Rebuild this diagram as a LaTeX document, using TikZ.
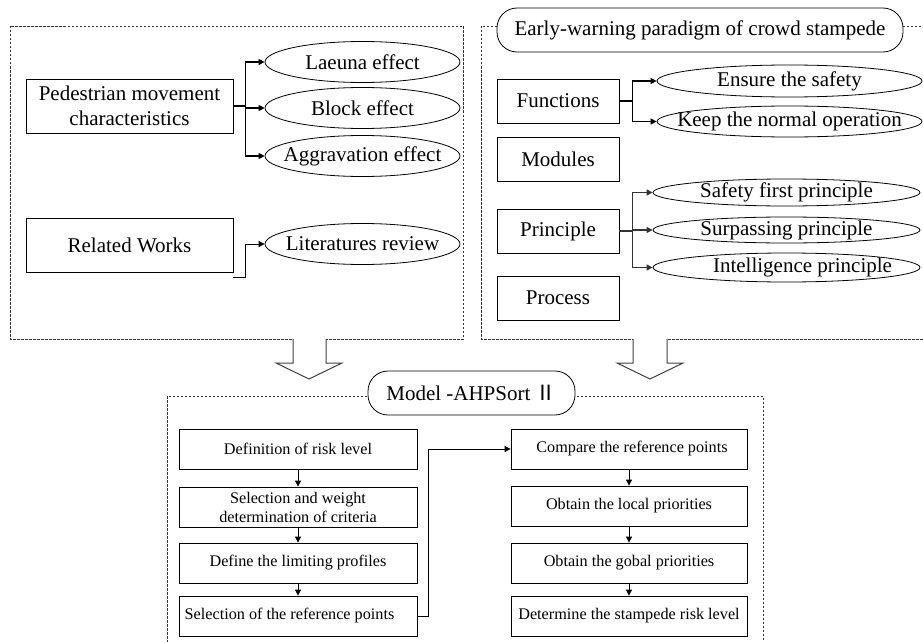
\documentclass[tikz,border=0pt]{standalone}
\usepackage{fontspec}
\setmainfont{Liberation Serif}
\newfontfamily\cjk{Noto Sans CJK SC}
\usetikzlibrary{shapes.geometric,arrows.meta,calc}
\begin{document}
\begin{tikzpicture}[x=1pt,y=-1pt,
 big/.style={font=\fontsize{21}{25}\selectfont},
 small/.style={font=\fontsize{16.2}{19}\selectfont},
 box/.style={draw,line width=0.8pt,rectangle,inner sep=0pt,align=center},
 oval/.style={draw,line width=0.8pt,ellipse,inner sep=0pt},
 frame/.style={draw=black!80,line width=0.7pt,dash pattern=on 2.5pt off 1.5pt},
 title/.style={draw,line width=0.8pt,fill=white,rounded corners=20pt,inner sep=0pt,big},
 tip/.style={-{Triangle[length=6pt,width=6pt]}},
 hollow/.style={draw=black!75,line width=1pt,fill=white}
]
\useasboundingbox (0,0) rectangle (923,642);

% frames
\draw[frame] (10,26) rectangle (463,339);
\draw[frame] (481,26) rectangle (940,339);
\draw[frame] (167,396) rectangle (763,680);

% hollow arrows
\draw[hollow] (293,339) -- (293,363) -- (276,363) -- (309,379) -- (342,363) -- (326,363) -- (326,339);
\draw[hollow] (633,339) -- (633,363) -- (617,363) -- (650,379) -- (683,363) -- (667,363) -- (667,339);

% titles
\node[title,minimum width=406pt,minimum height=44pt] (ew) at (700,30) {Early-warning paradigm of crowd stampede};
\node[title,minimum width=207pt,minimum height=44pt] (mod) at (471.5,393) {Model -AHPSort {\cjk Ⅱ}};

% left top part
\node[box,big,minimum width=207pt,minimum height=54pt] (ped) at (129.5,106) {Pedestrian movement\\characteristics};
\node[box,big,minimum width=207pt,minimum height=54pt] (rw) at (129.5,245) {Related Works};
\node[oval,minimum width=195pt,minimum height=41pt,label={[big]center:Laeuna effect}] (lae) at (362.5,62) {};
\node[oval,minimum width=195pt,minimum height=41pt,label={[big]center:Block effect}] (blk) at (362.5,108) {};
\node[oval,minimum width=195pt,minimum height=41pt,label={[big]center:Aggravation effect}] (agg) at (362.5,156) {};
\node[oval,minimum width=195pt,minimum height=41pt,label={[big]center:Literatures review}] (lit) at (362.5,244) {};

\draw[line width=1.8pt] (ped.east) -- ++(12,0) coordinate (pb);
\draw[line width=1.8pt] (pb |- lae) -- (pb |- agg);
\draw[line width=1.8pt,tip] (pb |- lae) -- (lae.west);
\draw[line width=1.8pt,tip] (pb |- blk) -- (blk.west);
\draw[line width=1.8pt,tip] (pb |- agg) -- (agg.west);
\draw[line width=0.9pt,tip] ($(rw.south east)+(0,5)$) -- ++(12,0) |- (lit.west);

% right top part
\node[box,big,minimum width=122pt,minimum height=44pt] (fun) at (558,101) {Functions};
\node[box,big,minimum width=122pt,minimum height=44pt] (mdl) at (558,159) {Modules};
\node[box,big,minimum width=122pt,minimum height=44pt] (pri) at (558,231) {Principle};
\node[box,big,minimum width=122pt,minimum height=44pt] (pro) at (558,298) {Process};
\node[oval,minimum width=265pt,minimum height=32pt,label={[big]center:Ensure the safety}] (ens) at (789.5,81) {};
\node[oval,minimum width=265pt,minimum height=31pt,label={[big]center:Keep the normal operation}] (kee) at (789.5,121.5) {};
\node[oval,minimum width=267pt,minimum height=27pt,label={[big]center:Safety first principle}] (saf) at (786.5,192.5) {};
\node[oval,minimum width=267pt,minimum height=26pt,label={[big]center:Surpassing principle}] (sur) at (786.5,230) {};
\node[oval,minimum width=267pt,minimum height=29pt,label={[big,xshift=16pt]center:Intelligence principle}] (int) at (786.5,267.5) {};

\draw[line width=1.4pt] (fun.east) -- ++(13,0) coordinate (fb);
\draw[line width=1.4pt] (fb |- ens) -- (fb |- kee);
\draw[line width=1.4pt,tip] (fb |- ens) -- (ens.west);
\draw[line width=1.4pt,tip] (fb |- kee) -- (kee.west);
\draw[line width=1.4pt,black!80] (pri.east) -- ++(13,0) coordinate (qb);
\draw[line width=1.4pt,black!80] (qb |- saf) -- (qb |- int);
\draw[line width=1.4pt,black!80,tip] (qb |- saf) -- (saf.west);
\draw[line width=1.4pt,black!80,tip] (qb |- sur) -- (sur.west);
\draw[line width=1.4pt,black!80,tip] (qb |- int) -- (int.west);

% bottom part
\node[box,small,minimum width=238pt,minimum height=40pt] (b1) at (298,449) {Definition of risk level};
\node[box,small,minimum width=238pt,minimum height=40pt] (b2) at (298,507) {Selection and weight\\determination of criteria};
\node[box,small,minimum width=238pt,minimum height=40pt] (b3) at (298,563) {Define the limiting profiles};
\node[box,small,minimum width=238pt,minimum height=40pt] (b4) at (298,616) {Selection of the reference points\hspace*{17pt}};
\node[box,small,minimum width=236pt,minimum height=40pt] (c1) at (629,449) {\hspace*{6pt}Compare the reference points};
\node[box,small,minimum width=236pt,minimum height=40pt] (c2) at (629,506) {Obtain the local priorities};
\node[box,small,minimum width=236pt,minimum height=40pt] (c3) at (629,563) {Obtain the gobal priorities};
\node[box,small,minimum width=236pt,minimum height=40pt] (c4) at (629,616) {Determine the stampede risk level};

\draw[line width=0.8pt,tip] (b1) -- (b2);
\draw[line width=0.8pt,tip] (b2) -- (b3);
\draw[line width=0.8pt,tip] (b3) -- (b4);
\draw[line width=0.8pt,tip] (c1) -- (c2);
\draw[line width=0.8pt,tip] (c2) -- (c3);
\draw[line width=0.8pt,tip] (c3) -- (c4);
\draw[line width=0.8pt,tip] (b4.east) -- ++(11,0) |- (c1.west);
\end{tikzpicture}
\end{document}
